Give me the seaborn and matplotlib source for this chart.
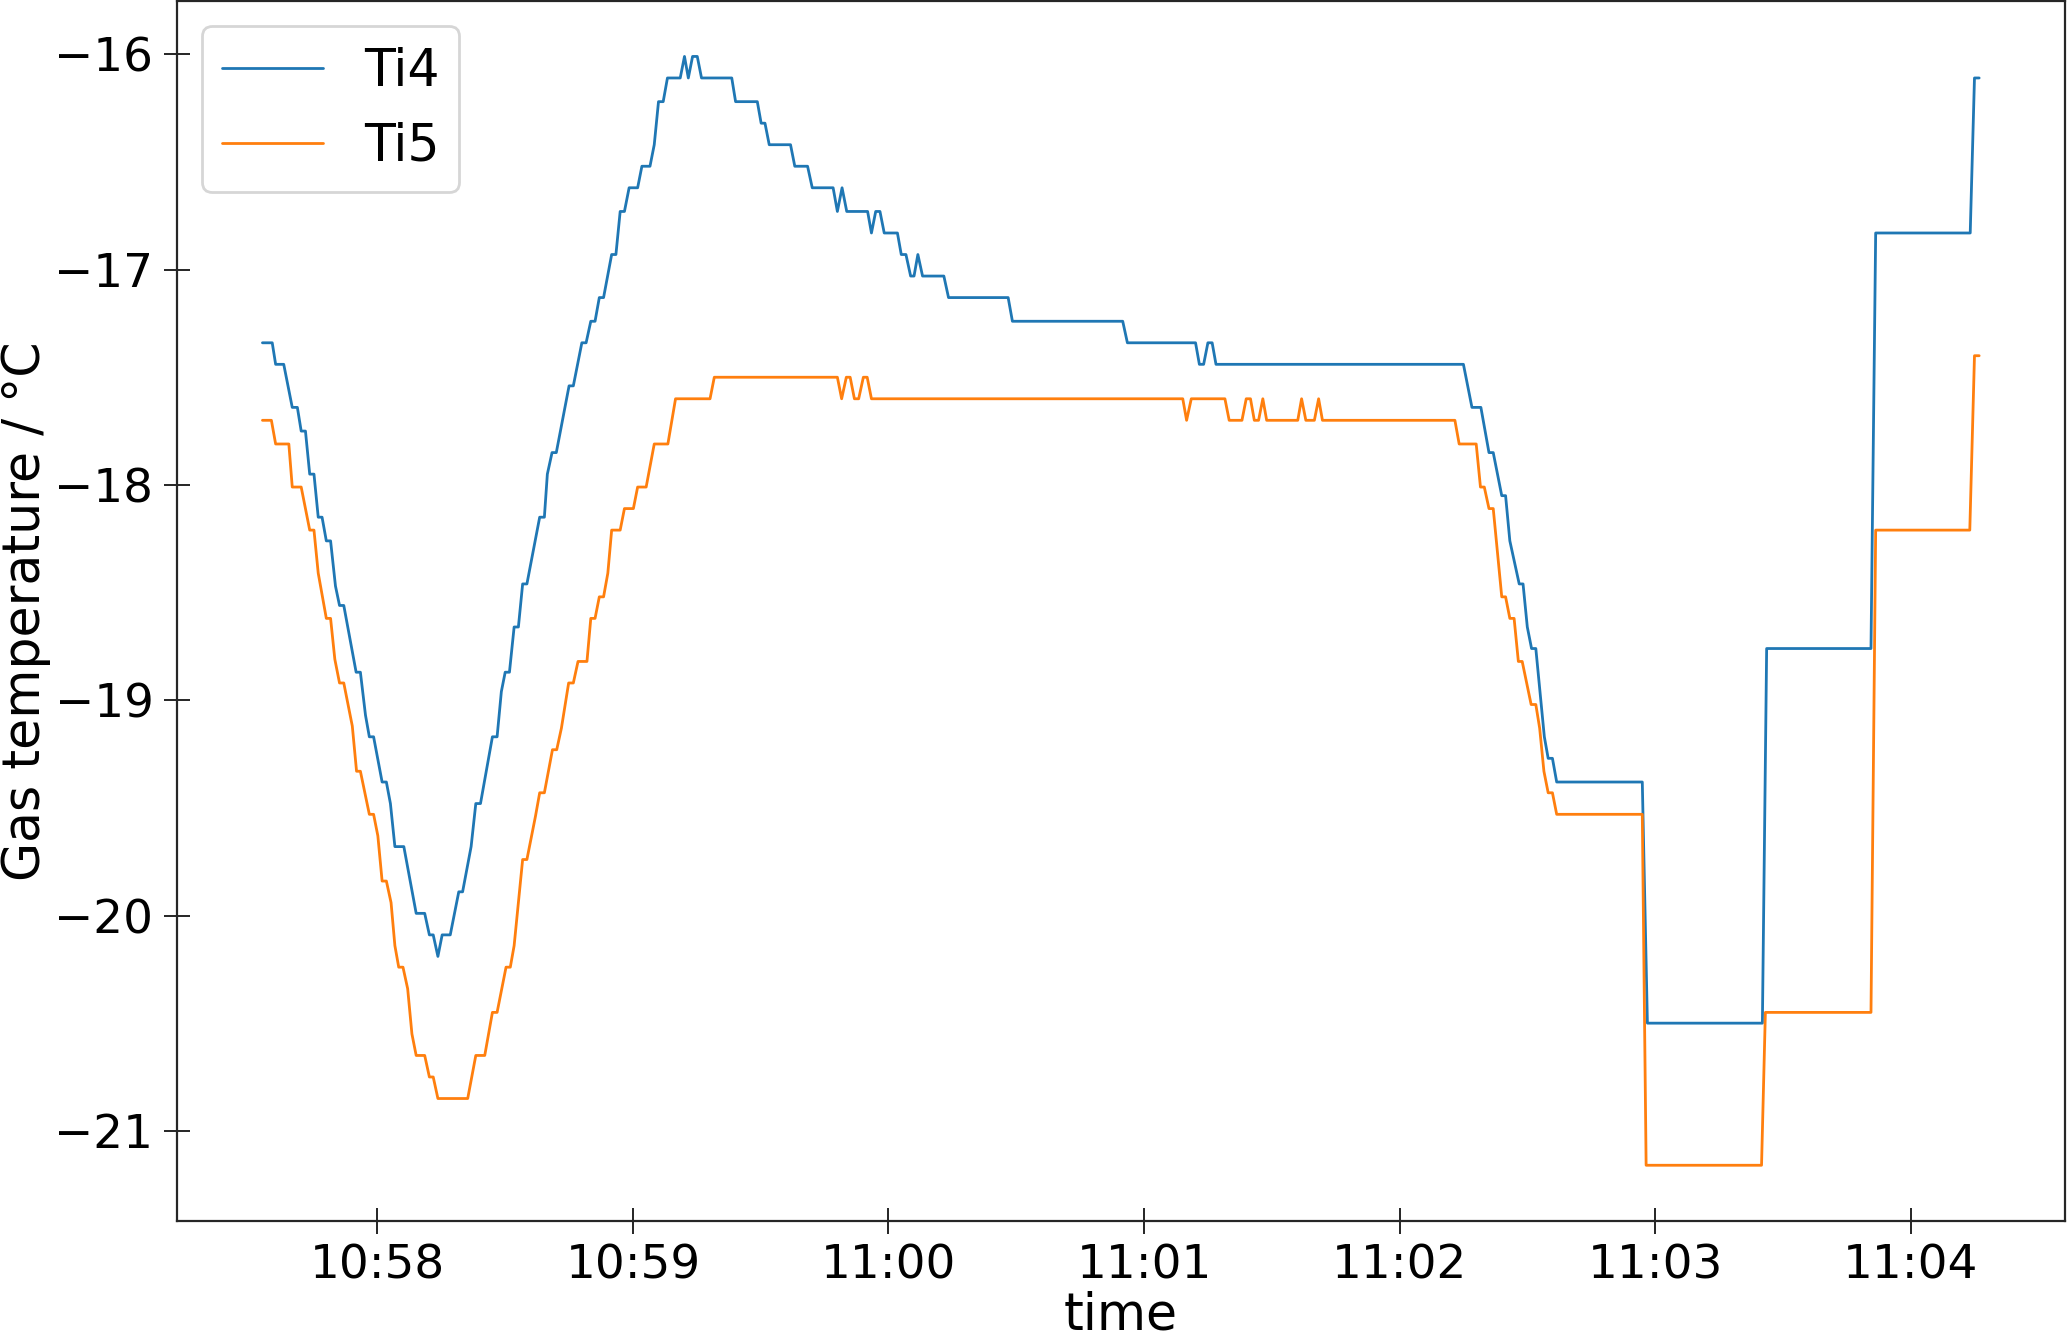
import matplotlib
matplotlib.use("Agg")
import matplotlib.pyplot as plt
import matplotlib.dates as mdates
import pandas as pd
import seaborn as sns

# sample times in seconds after 10:57:00, gas temperatures in degC
t_ti4 = [33.0, 35.3, 36.1, 38.0, 40.0, 41.2, 42.1, 43.1, 44.1, 45.1, 46.1, 47.0,
         48.0, 49.0, 50.15, 51.1, 52.1, 55.0, 56.0, 57.2, 58.1, 59.1, 61.1, 62.1,
         63.05, 64.1, 66.2, 69.1, 71.1, 72.2, 73.1, 74.2, 75.2, 77.1, 79.1, 80.0,
         82.0, 83.1, 84.2, 87.0, 88.1, 89.1, 90.0, 91.0, 92.1, 93.1, 94.1, 95.1,
         98.1, 99.2, 99.9, 101.0, 102.0, 105.0, 106.0, 108.0, 109.0, 110.1, 111.1,
         112.1, 113.1, 115.0, 116.0, 117.0, 118.0, 119.1, 121.1, 122.1, 124.0,
         125.0, 126.0, 127.1, 128.1, 131.1, 132.1, 133.0, 134.0, 135.1, 136.1,
         143.2, 144.1, 149.2, 150.1, 151.0, 152.0, 157.0, 158.0, 161.0, 162.1,
         167.0, 168.0, 169.1, 170.2, 175.1, 176.0, 177.0, 178.0, 179.0, 182.1,
         183.0, 184.1, 185.2, 186.0, 186.9, 188.0, 193.0, 194.1, 208.1, 209.1,
         235.0, 236.1, 252.1, 253.0, 254.0, 255.0, 256.0, 256.9, 315.0, 317.0,
         319.1, 321.0, 322.0, 324.0, 324.9, 325.9, 328.1, 329.0, 330.0, 331.0,
         332.0, 334.0, 334.9, 335.9, 336.9, 357.0, 358.2, 385.2, 386.2, 410.7,
         411.8, 434.0, 435.0, 436.1]
ti4 = [-17.34, -17.34, -17.44, -17.44, -17.64, -17.64, -17.75, -17.75, -17.95, -17.95,
       -18.15, -18.15, -18.26, -18.26, -18.47, -18.56, -18.56, -18.87, -18.87, -19.07,
       -19.17, -19.17, -19.38, -19.38, -19.48, -19.68, -19.68, -19.99, -19.99, -20.09,
       -20.09, -20.19, -20.09, -20.09, -19.89, -19.89, -19.68, -19.48, -19.48, -19.17,
       -19.17, -18.96, -18.87, -18.87, -18.66, -18.66, -18.46, -18.46, -18.15, -18.15,
       -17.95, -17.85, -17.85, -17.54, -17.54, -17.34, -17.34, -17.24, -17.24, -17.13,
       -17.13, -16.93, -16.93, -16.73, -16.73, -16.62, -16.62, -16.52, -16.52, -16.42,
       -16.22, -16.22, -16.11, -16.11, -16.01, -16.11, -16.01, -16.01, -16.11, -16.11,
       -16.22, -16.22, -16.32, -16.32, -16.42, -16.42, -16.52, -16.52, -16.62, -16.62,
       -16.73, -16.62, -16.73, -16.73, -16.83, -16.73, -16.73, -16.83, -16.83, -16.93,
       -16.93, -17.03, -17.03, -16.93, -17.03, -17.03, -17.13, -17.13, -17.24, -17.24,
       -17.34, -17.34, -17.44, -17.44, -17.34, -17.34, -17.44, -17.44, -17.64, -17.64,
       -17.85, -17.85, -18.05, -18.05, -18.26, -18.46, -18.46, -18.66, -18.76, -18.76,
       -19.17, -19.27, -19.27, -19.38, -19.38, -20.50, -20.50, -18.76, -18.76, -16.83,
       -16.83, -16.11, -16.11]

t_ti5 = [33.0, 35.1, 36.1, 39.2, 40.0, 42.1, 44.1, 45.1, 46.1, 48.0, 49.0, 50.0,
         51.1, 52.1, 54.1, 55.1, 56.0, 58.1, 59.1, 60.1, 61.1, 62.1, 63.2, 64.1,
         65.0, 66.0, 67.1, 68.1, 69.1, 71.1, 72.2, 73.1, 74.2, 81.2, 83.1, 85.2,
         87.0, 88.1, 90.2, 91.2, 92.1, 94.1, 95.1, 97.1, 98.1, 99.2, 101.1, 102.1,
         103.2, 104.9, 106.0, 107.1, 109.2, 110.1, 111.1, 112.1, 113.1, 114.1,
         115.0, 117.0, 118.0, 120.1, 121.1, 123.1, 125.0, 128.2, 130.0, 138.1,
         139.1, 168.0, 169.0, 170.1, 171.0, 172.0, 173.0, 174.1, 175.0, 176.0,
         249.1, 250.0, 251.1, 259.0, 260.0, 263.0, 264.0, 265.0, 265.9, 266.9,
         267.9, 268.8, 276.1, 277.0, 278.0, 280.0, 281.0, 281.9, 313.0, 314.0,
         318.0, 319.0, 319.9, 321.0, 322.0, 324.0, 324.9, 325.9, 326.9, 327.9,
         328.8, 330.9, 332.0, 332.9, 333.9, 334.9, 335.9, 336.9, 357.0, 357.9,
         385.0, 385.9, 410.7, 411.8, 433.9, 435.0, 436.1]
ti5 = [-17.70, -17.70, -17.81, -17.81, -18.01, -18.01, -18.21, -18.21, -18.41, -18.62,
       -18.62, -18.81, -18.92, -18.92, -19.12, -19.33, -19.33, -19.53, -19.53, -19.63,
       -19.84, -19.84, -19.94, -20.14, -20.24, -20.24, -20.34, -20.55, -20.65, -20.65,
       -20.75, -20.75, -20.85, -20.85, -20.65, -20.65, -20.45, -20.45, -20.24, -20.24,
       -20.14, -19.74, -19.74, -19.54, -19.43, -19.43, -19.23, -19.23, -19.13, -18.92,
       -18.92, -18.82, -18.82, -18.62, -18.62, -18.52, -18.52, -18.41, -18.21, -18.21,
       -18.11, -18.11, -18.01, -18.01, -17.81, -17.81, -17.60, -17.60, -17.50, -17.50,
       -17.60, -17.50, -17.50, -17.60, -17.60, -17.50, -17.50, -17.60, -17.60, -17.70,
       -17.60, -17.60, -17.70, -17.70, -17.60, -17.60, -17.70, -17.70, -17.60, -17.70,
       -17.70, -17.60, -17.70, -17.70, -17.60, -17.70, -17.70, -17.81, -17.81, -18.01,
       -18.01, -18.11, -18.11, -18.52, -18.52, -18.62, -18.62, -18.82, -18.82, -19.02,
       -19.02, -19.13, -19.33, -19.43, -19.43, -19.53, -19.53, -21.16, -21.16, -20.45,
       -20.45, -18.21, -18.21, -17.40, -17.40]

START = pd.Timestamp("2021-01-01 10:57:00")


def to_time(seconds):
    return START + pd.to_timedelta(seconds, unit="s")


sns.set_style("ticks")
plt.rcParams["font.family"] = ["DejaVu Sans"]
plt.rcParams["text.color"] = "black"
plt.rcParams["axes.labelcolor"] = "black"

W, H, DPI = 2067, 1333, 200
ax_left, ax_right, ax_top, ax_bottom = 176.6, 2065.0, 1.0, 1220.7
fig = plt.figure(figsize=(W / DPI, H / DPI), dpi=DPI)
ax = fig.add_axes([ax_left / W, 1 - ax_bottom / H,
                   (ax_right - ax_left) / W, (ax_bottom - ax_top) / H])

colors = sns.color_palette("tab10")
sns.lineplot(x=to_time(t_ti4), y=ti4, ax=ax, color=colors[0], linewidth=1.0,
             estimator=None, sort=False, label="Ti4")
sns.lineplot(x=to_time(t_ti5), y=ti5, ax=ax, color=colors[1], linewidth=1.0,
             estimator=None, sort=False, label="Ti5")

ax.xaxis.set_major_locator(mdates.MinuteLocator())
ax.xaxis.set_major_formatter(mdates.DateFormatter("%H:%M"))
ax.set_yticks([-21, -20, -19, -18, -17, -16])

for s in ax.spines.values():
    s.set_visible(True)
    s.set_color("#262626")
    s.set_linewidth(0.8)

ax.tick_params(direction="inout", length=9.7, width=0.6, labelsize=16.9,
               colors="black")

ax.set_xlabel("time", fontsize=18.2)
ax.set_ylabel("Gas temperature / °C", fontsize=18.2)
# label baselines placed by hand, as in the reference
ax.xaxis.set_label_coords(0.5, -(1329.0 - ax_bottom) / (ax_bottom - ax_top))
ax.xaxis.label.set_verticalalignment("baseline")
ax.yaxis.set_label_coords(-(ax_left - 40.0) / (ax_right - ax_left), 0.5)
ax.yaxis.label.set_verticalalignment("baseline")

ax.legend(loc="upper left", fontsize=18.2)

fig.savefig("out.png", dpi=DPI)
